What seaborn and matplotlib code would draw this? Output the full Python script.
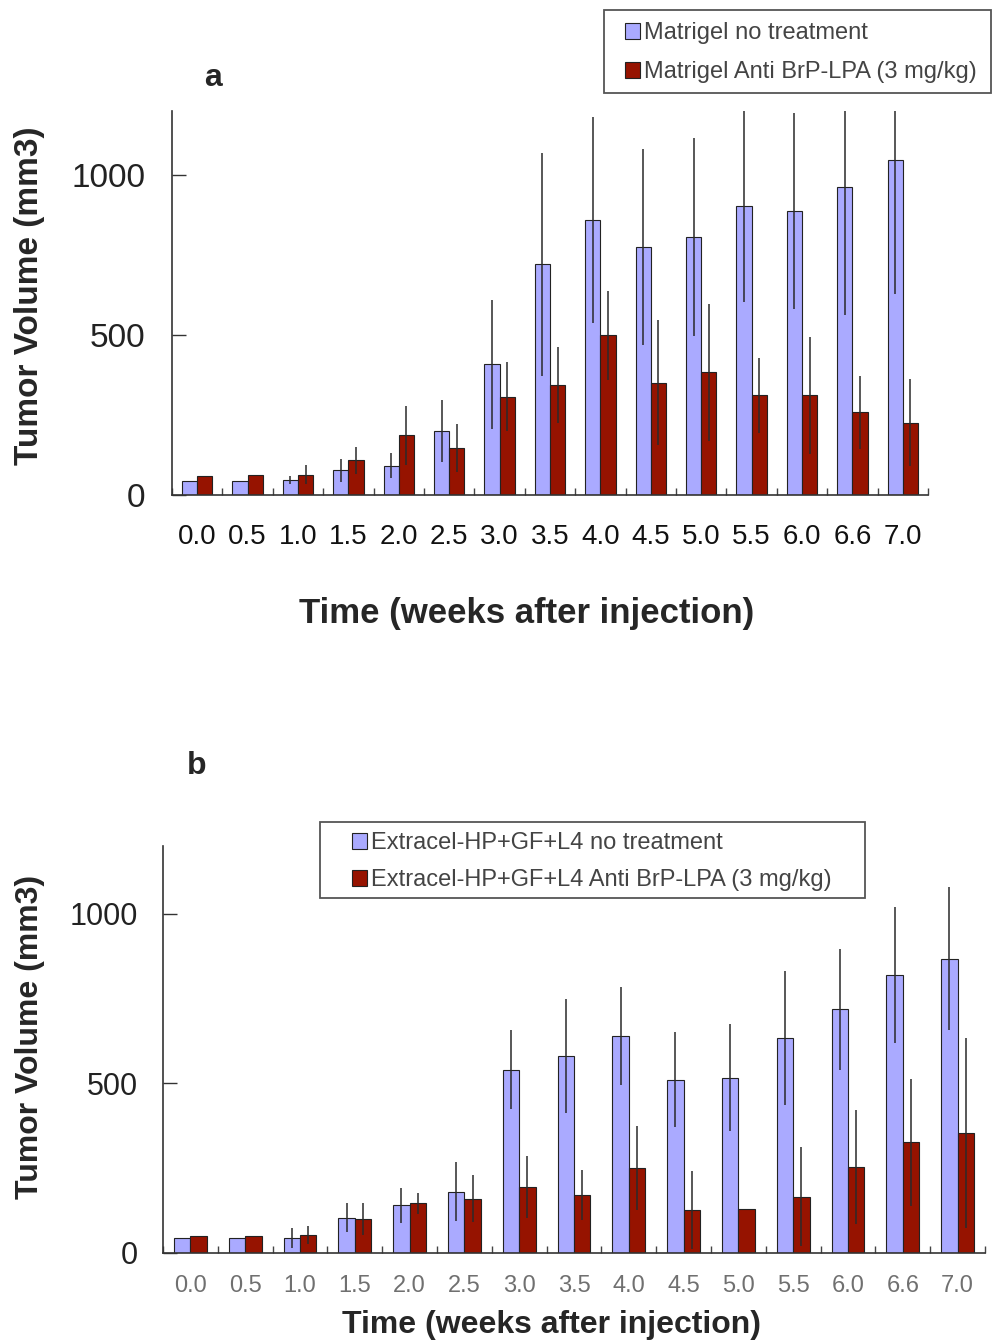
import matplotlib
matplotlib.use("Agg")
import matplotlib.pyplot as plt
from matplotlib.patches import Rectangle
import seaborn as sns
import pandas as pd
import numpy as np

# time points (weeks after injection)
weeks = ["0.0", "0.5", "1.0", "1.5", "2.0", "2.5", "3.0", "3.5",
         "4.0", "4.5", "5.0", "5.5", "6.0", "6.6", "7.0"]

# panel a - Matrigel
a_ctrl = [44, 44, 47, 78, 92, 201, 408, 721, 859, 774, 806, 904, 888, 961, 1047]
a_ctrl_err = [0, 0, 12, 36, 40, 97, 201, 349, 321, 306, 310, 300, 307, 399, 419]
a_trt = [59, 62, 64, 109, 187, 148, 307, 344, 499, 351, 383, 311, 311, 258, 226]
a_trt_err = [0, 0, 30, 42, 92, 75, 108, 118, 139, 196, 213, 116, 184, 113, 136]

# panel b - Extracel-HP+GF+L4
b_ctrl = [44, 44, 44, 104, 141, 181, 541, 580, 639, 511, 517, 634, 718, 819, 868]
b_ctrl_err = [0, 0, 29, 42, 52, 86, 117, 168, 144, 140, 158, 198, 177, 200, 210]
b_trt = [49, 49, 54, 99, 146, 160, 194, 171, 250, 128, 131, 166, 253, 326, 355]
b_trt_err = [0, 0, 27, 47, 32, 70, 92, 74, 123, 115, 0, 146, 168, 187, 280]

a_labels = ["Matrigel no treatment", "Matrigel Anti BrP-LPA (3 mg/kg)"]
b_labels = ["Extracel-HP+GF+L4 no treatment", "Extracel-HP+GF+L4 Anti BrP-LPA (3 mg/kg)"]

colors = ["#aaaaff", "#961300"]

sns.set_style("white")
plt.rcParams["font.family"] = ["Liberation Sans", "DejaVu Sans"]

W, H = 992, 1342
fig = plt.figure(figsize=(W / 100, H / 100), dpi=100)


def px_axes(l, r, t, b):
    return fig.add_axes([l / W, 1 - b / H, (r - l) / W, (b - t) / H])


def px_box(l, r, t, b):
    # legend frame drawn in figure pixels
    fig.add_artist(Rectangle((l / W, 1 - b / H), (r - l) / W, (b - t) / H,
                             transform=fig.transFigure, fill=False,
                             edgecolor="#555555", linewidth=1.3))


def draw_panel(ax, ctrl, ctrl_err, trt, trt_err, labels, tick_color, xsize, ysize):
    df = pd.DataFrame({
        "week": weeks * 2,
        "volume": ctrl + trt,
        "group": [labels[0]] * len(weeks) + [labels[1]] * len(weeks),
    })
    sns.barplot(data=df, x="week", y="volume", hue="group", palette=colors,
                width=0.6, edgecolor="#222222", linewidth=0.8, ax=ax,
                saturation=1, legend=True)
    for cont, errs in zip(ax.containers, [ctrl_err, trt_err]):
        xs = [p.get_x() + p.get_width() / 2 for p in cont.patches]
        hs = [p.get_height() for p in cont.patches]
        ax.errorbar(xs, hs, yerr=errs, fmt="none", ecolor="#2a2a2a",
                    elinewidth=1.1, capsize=0, zorder=3)
    ax.set_xlim(-0.5, len(weeks) - 0.5)
    ax.set_ylim(0, 1200)
    ax.set_yticks([0, 500, 1000])
    ax.set_xticks(np.arange(-0.5, len(weeks), 1.0), minor=True)
    ax.tick_params(axis="x", which="major", length=0, labelsize=xsize,
                   labelcolor=tick_color)
    ax.tick_params(axis="x", which="minor", direction="in", length=5,
                   width=1, color="#444444", bottom=True)
    ax.tick_params(axis="y", direction="in", length=10, width=1,
                   labelsize=ysize, labelcolor="#222222", color="#333333",
                   left=True)
    sns.despine(ax=ax)
    for s in ["left", "bottom"]:
        ax.spines[s].set_color("#333333")
        ax.spines[s].set_linewidth(1.2)


legend_kw = dict(loc="upper left", bbox_transform=fig.transFigure,
                 borderaxespad=0, borderpad=0, frameon=False, fontsize=17,
                 labelcolor="#444444", handlelength=0.65, handleheight=0.65,
                 handletextpad=0.15)

# panel a
ax1 = px_axes(172, 928, 111, 495)
draw_panel(ax1, a_ctrl, a_ctrl_err, a_trt, a_trt_err, a_labels, "#111111", 20, 24)
ax1.tick_params(axis="x", which="major", pad=21)
ax1.tick_params(axis="y", pad=19)
ax1.set_xlabel("Time (weeks after injection)", fontsize=25, fontweight="bold")
ax1.xaxis.label.set_va("center")
ax1.xaxis.set_label_coords((527 - 172) / 756, (495 - 613) / 384)
ax1.set_ylabel("Tumor Volume (mm3)", fontsize=24, fontweight="bold")
ax1.yaxis.label.set_va("center")
ax1.yaxis.set_label_coords((30 - 172) / 756, (495 - 296) / 384)
ax1.legend(bbox_to_anchor=(625 / W, 1 - 22 / H), labelspacing=0.72,
           **legend_kw)
px_box(604, 991, 10, 93)
fig.text(213 / W, 1 - 78 / H, "a", fontsize=23, fontweight="bold",
         ha="center", va="center")

# panel b
ax2 = px_axes(163, 985, 846, 1253)
draw_panel(ax2, b_ctrl, b_ctrl_err, b_trt, b_trt_err, b_labels, "#707070", 17, 22)
ax2.tick_params(axis="x", which="major", pad=16)
ax2.tick_params(axis="y", pad=18)
ax2.set_xlabel("Time (weeks after injection)", fontsize=23, fontweight="bold")
ax2.xaxis.label.set_va("center")
ax2.xaxis.set_label_coords((552 - 163) / 822, (1253 - 1325) / 407)
ax2.set_ylabel("Tumor Volume (mm3)", fontsize=23, fontweight="bold")
ax2.yaxis.label.set_va("center")
ax2.yaxis.set_label_coords((30 - 163) / 822, (1253 - 1037) / 407)
ax2.legend(bbox_to_anchor=(352 / W, 1 - 832 / H), labelspacing=0.65,
           **legend_kw)
px_box(320, 865, 822, 898)
fig.text(197 / W, 1 - 766 / H, "b", fontsize=23, fontweight="bold",
         ha="center", va="center")

fig.savefig("out.png", dpi=100)
